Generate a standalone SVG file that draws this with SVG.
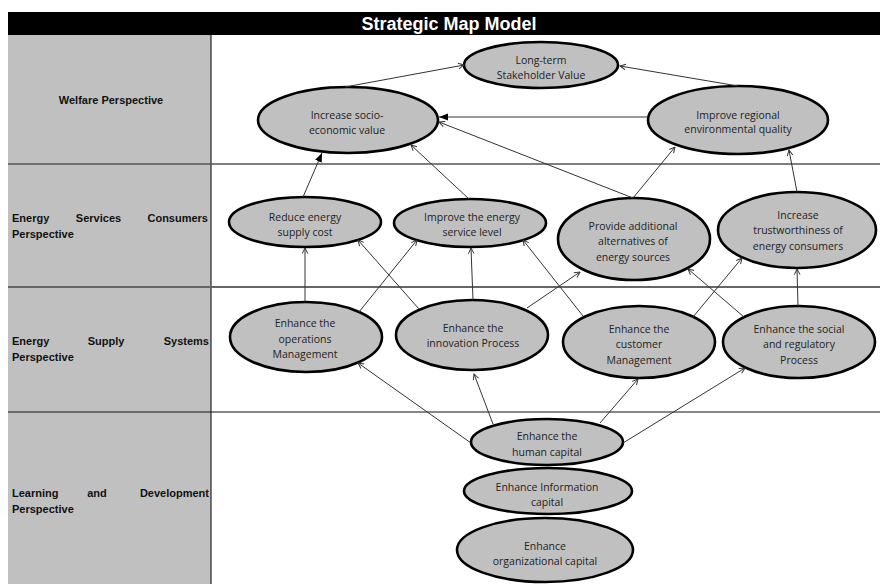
<svg xmlns="http://www.w3.org/2000/svg" width="880" height="584" viewBox="0 0 880 584">
<style>
.lbl{font-family:"Liberation Sans",Arial,sans-serif;font-weight:bold;font-size:11px;fill:#111}
.nd ellipse{fill:#c0c0c0;stroke:#000;stroke-width:2.6}
.nd text{font-family:"Open Sans","Noto Sans",sans-serif;font-size:10.5px;fill:#222;text-anchor:middle}
.cn line{stroke:#333;stroke-width:1;fill:none}
</style>
<defs>
<marker id="open" viewBox="0 0 10 10" refX="9" refY="5" markerWidth="7" markerHeight="7" markerUnits="userSpaceOnUse" orient="auto"><path d="M1,1 L9,5 L1,9" fill="none" stroke="#333" stroke-width="1.4"/></marker>
<marker id="solid" viewBox="0 0 10 10" refX="10" refY="5" markerWidth="9" markerHeight="9" markerUnits="userSpaceOnUse" orient="auto"><path d="M0,1 L10,5 L0,9 z" fill="#000"/></marker>
</defs>
<rect width="880" height="584" fill="#fff"/>
<g id="title">
<rect x="8" y="12" width="872" height="23" fill="#000"/>
<text x="449" y="30" text-anchor="middle" font-family="Liberation Sans,Arial,sans-serif" font-weight="bold" font-size="18" fill="#fff">Strategic Map Model</text>
</g>
<g id="grid">
<rect x="8" y="35" width="203" height="549" fill="#c0c0c0"/>
<line x1="211" y1="35" x2="211" y2="584" stroke="#000" stroke-width="1"/>
<line x1="8" y1="164" x2="880" y2="164" stroke="#555" stroke-width="1.3"/>
<line x1="8" y1="287" x2="880" y2="287" stroke="#666" stroke-width="2"/>
<line x1="8" y1="412" x2="880" y2="412" stroke="#111" stroke-width="1"/>
</g>
<g id="labels">
<text class="lbl" x="111" y="104" text-anchor="middle">Welfare Perspective</text>
<text class="lbl" x="12" y="222">Energy</text>
<text class="lbl" x="98.5" y="222" text-anchor="middle">Services</text>
<text class="lbl" x="208" y="222" text-anchor="end">Consumers</text>
<text class="lbl" x="12" y="238">Perspective</text>
<text class="lbl" x="12" y="345">Energy</text>
<text class="lbl" x="106" y="345" text-anchor="middle">Supply</text>
<text class="lbl" x="209" y="345" text-anchor="end">Systems</text>
<text class="lbl" x="12" y="361">Perspective</text>
<text class="lbl" x="12" y="497">Learning</text>
<text class="lbl" x="97" y="497" text-anchor="middle">and</text>
<text class="lbl" x="209" y="497" text-anchor="end">Development</text>
<text class="lbl" x="12" y="513">Perspective</text>
</g>
<g id="n-longterm" class="nd"><ellipse cx="541" cy="65" rx="77" ry="23"/><text x="541" y="63.5">Long-term</text><text x="541" y="78.5">Stakeholder Value</text></g>
<g id="n-socio" class="nd"><ellipse cx="348" cy="120" rx="90" ry="33"/><text x="347" y="118.5">Increase socio-</text><text x="347" y="133.5">economic value</text></g>
<g id="n-env" class="nd"><ellipse cx="738" cy="120" rx="90" ry="34"/><text x="738" y="118.5">Improve regional</text><text x="738" y="133">environmental quality</text></g>
<g id="n-cost" class="nd"><ellipse cx="305" cy="222" rx="76" ry="25"/><text x="305" y="220.5">Reduce energy</text><text x="305" y="235.5">supply cost</text></g>
<g id="n-service" class="nd"><ellipse cx="470" cy="223" rx="76" ry="24"/><text x="472" y="220.5">Improve the energy</text><text x="472" y="235.5">service level</text></g>
<g id="n-alt" class="nd"><ellipse cx="634" cy="239" rx="76" ry="41"/><text x="633" y="229.5">Provide additional</text><text x="633" y="245">alternatives of</text><text x="633" y="260.5">energy sources</text></g>
<g id="n-trust" class="nd"><ellipse cx="797" cy="230" rx="79" ry="38"/><text x="798" y="218.5">Increase</text><text x="798" y="233.5">trustworthiness of</text><text x="798" y="249.5">energy consumers</text></g>
<g id="n-ops" class="nd"><ellipse cx="306" cy="337" rx="76" ry="35"/><text x="305" y="326.5">Enhance the</text><text x="305" y="342.5">operations</text><text x="305" y="357.5">Management</text></g>
<g id="n-innov" class="nd"><ellipse cx="472" cy="335" rx="76" ry="35"/><text x="473" y="331.5">Enhance the</text><text x="473" y="346.5">innovation Process</text></g>
<g id="n-cust" class="nd"><ellipse cx="639" cy="342" rx="76" ry="36"/><text x="639" y="332.5">Enhance the</text><text x="639" y="347.5">customer</text><text x="639" y="363.5">Management</text></g>
<g id="n-social" class="nd"><ellipse cx="799" cy="342" rx="76" ry="36"/><text x="799" y="332.5">Enhance the social</text><text x="799" y="347.5">and regulatory</text><text x="799" y="363.5">Process</text></g>
<g id="n-human" class="nd"><ellipse cx="547" cy="442" rx="76" ry="23"/><text x="547" y="439.5">Enhance the</text><text x="547" y="455.5">human capital</text></g>
<g id="n-info" class="nd"><ellipse cx="548" cy="491" rx="84" ry="23"/><text x="547" y="490.5">Enhance Information</text><text x="547" y="505.5">capital</text></g>
<g id="n-org" class="nd"><ellipse cx="545" cy="550" rx="88" ry="32"/><text x="545" y="549.5">Enhance</text><text x="545" y="564.5">organizational capital</text></g>
<g id="connectors" class="cn">
<line x1="345" y1="87" x2="464" y2="65" marker-end="url(#open)"/>
<line x1="738" y1="86" x2="620" y2="66" marker-end="url(#open)"/>
<line x1="648" y1="117" x2="439" y2="117" marker-end="url(#solid)"/>
<line x1="633" y1="198" x2="439" y2="122" marker-end="url(#open)"/>
<line x1="303" y1="197" x2="322" y2="153" marker-end="url(#solid)"/>
<line x1="469" y1="199" x2="411" y2="145" marker-end="url(#open)"/>
<line x1="633" y1="198" x2="675" y2="147" marker-end="url(#open)"/>
<line x1="797" y1="192" x2="789" y2="150" marker-end="url(#open)"/>
<line x1="305" y1="302" x2="305" y2="248" marker-end="url(#open)"/>
<line x1="359" y1="312" x2="417" y2="240" marker-end="url(#open)"/>
<line x1="419" y1="309" x2="358" y2="240" marker-end="url(#open)"/>
<line x1="473" y1="300" x2="471" y2="248" marker-end="url(#open)"/>
<line x1="527" y1="308" x2="580" y2="272" marker-end="url(#open)"/>
<line x1="583" y1="316" x2="523" y2="240" marker-end="url(#open)"/>
<line x1="693" y1="317" x2="742" y2="258" marker-end="url(#open)"/>
<line x1="744" y1="317" x2="688" y2="269" marker-end="url(#open)"/>
<line x1="798" y1="306" x2="797" y2="269" marker-end="url(#open)"/>
<line x1="471" y1="443" x2="358" y2="363" marker-end="url(#open)"/>
<line x1="493" y1="424" x2="474" y2="374" marker-end="url(#open)"/>
<line x1="600" y1="423" x2="638" y2="379" marker-end="url(#open)"/>
<line x1="623" y1="443" x2="745" y2="368" marker-end="url(#open)"/>
</g>
</svg>
